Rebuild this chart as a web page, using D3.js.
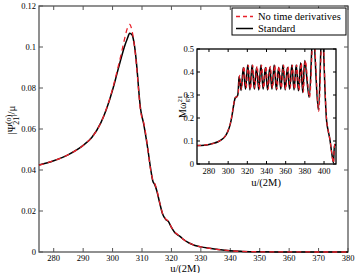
<!DOCTYPE html>
<html>
<head>
<meta charset="utf-8">
<script src="https://cdn.jsdelivr.net/npm/d3@7"></script>
<style>
  body { margin: 0; background: #fff; }
  svg { display: block; font-family: "Liberation Serif", "DejaVu Serif", serif; }
</style>
</head>
<body>
<svg id="chart" width="358" height="273"></svg>
<script>
// main panel: |Psi_21| vs u/(2M)
const uMain = [275, 280, 285, 290, 293, 296, 298, 300, 301.5, 303, 304, 305, 305.8, 306.6, 307.3, 308, 308.5, 309, 309.5, 310, 310.5, 311, 312, 313, 313.7, 314.3, 315, 316, 317, 318, 319, 320, 321, 322, 323, 324, 326, 328, 330, 333, 336, 340, 344, 350, 360, 380];
const psiStd = [0.0424, 0.0445, 0.0475, 0.052, 0.056, 0.063, 0.07, 0.079, 0.087, 0.095, 0.1, 0.104, 0.1067, 0.106, 0.102, 0.094, 0.086, 0.077, 0.07, 0.066, 0.063, 0.059, 0.05, 0.04, 0.0345, 0.033, 0.03, 0.024, 0.0185, 0.016, 0.0148, 0.012, 0.0098, 0.0085, 0.0075, 0.0062, 0.0044, 0.0032, 0.0025, 0.0018, 0.0012, 0.0006, 0.0003, 0.0001, 0.00003, 0];
const psiNoT = [0.0424, 0.0445, 0.0475, 0.052, 0.056, 0.063, 0.0702, 0.0795, 0.088, 0.097, 0.1035, 0.109, 0.111, 0.108, 0.102, 0.093, 0.085, 0.076, 0.069, 0.0655, 0.0635, 0.06, 0.05, 0.0395, 0.035, 0.0335, 0.0305, 0.0242, 0.0187, 0.0162, 0.0149, 0.0121, 0.0099, 0.0086, 0.0075, 0.0062, 0.0044, 0.0032, 0.0025, 0.0018, 0.0012, 0.0006, 0.0003, 0.0001, 0.00003, 0];

// inset: M omega_gw vs u/(2M)
const uInset = [267.5, 275, 280, 285, 290, 295, 298, 300, 302, 304, 306, 307.5, 309, 310, 311.5, 313.5, 315.8, 318.1, 320.4, 322.7, 325, 327.3, 329.6, 331.9, 334.2, 336.5, 338.8, 341.1, 343.4, 345.7, 348, 350.3, 352.6, 354.9, 357.2, 359.5, 361.8, 364.1, 366.4, 368.7, 371, 373.3, 375.6, 377.8, 380, 384.4, 388.6, 394, 398, 402.9, 406, 408, 409.8, 411.3, 412.5];
const omStd = [0.08, 0.082, 0.085, 0.09, 0.098, 0.112, 0.128, 0.145, 0.17, 0.21, 0.262, 0.288, 0.292, 0.3, 0.38, 0.32, 0.42, 0.325, 0.43, 0.322, 0.43, 0.325, 0.42, 0.322, 0.43, 0.325, 0.42, 0.322, 0.42, 0.325, 0.43, 0.322, 0.42, 0.325, 0.43, 0.322, 0.42, 0.325, 0.43, 0.322, 0.43, 0.318, 0.44, 0.31, 0.45, 0.29, 0.58, 0.235, 0.6, 0.18, 0.11, 0.05, 0.005, 0.085, 0.08];
const uInsetN = [267.5, 275, 280, 285, 290, 295, 298, 300, 302, 304, 306, 307.5, 309, 310.3, 312, 314, 316.4, 318.7, 321, 323.3, 325.6, 327.9, 330.2, 332.5, 334.8, 337.1, 339.4, 341.7, 344, 346.3, 348.6, 350.9, 353.2, 355.5, 357.8, 360.1, 362.4, 364.7, 367, 369.3, 371.6, 373.9, 376.2, 378.4, 380.6, 384.9, 389, 394.4, 398.3, 403, 406, 408, 409.8, 411.3, 412.5];
const omNoT = [0.08, 0.082, 0.085, 0.09, 0.098, 0.112, 0.128, 0.146, 0.172, 0.213, 0.265, 0.29, 0.292, 0.302, 0.385, 0.325, 0.425, 0.33, 0.43, 0.325, 0.43, 0.33, 0.425, 0.325, 0.43, 0.33, 0.425, 0.325, 0.425, 0.33, 0.43, 0.325, 0.425, 0.33, 0.43, 0.325, 0.425, 0.33, 0.43, 0.325, 0.43, 0.32, 0.44, 0.312, 0.45, 0.29, 0.58, 0.23, 0.6, 0.18, 0.11, 0.05, 0.005, 0.085, 0.08];

const xTicksMain = [280, 290, 300, 310, 320, 330, 340, 350, 360, 370, 380];
const yTicksMain = [0, 0.02, 0.04, 0.06, 0.08, 0.1, 0.12];
const xTicksInset = [280, 300, 320, 340, 360, 380, 400];
const yTicksInset = [0, 0.1, 0.2, 0.3, 0.4, 0.5];

const svg = d3.select('#chart');
const red = '#e8202a';

const x = d3.scaleLinear().domain([275, 380]).range([39, 348]);
const y = d3.scaleLinear().domain([0, 0.12]).range([252, 6]);

const xi = d3.scaleLinear().domain([267.5, 412.5]).range([197, 336]);
const yi = d3.scaleLinear().domain([0, 0.5]).range([164, 49]);

const fmt = d => d === 0 ? '0' : String(+d.toFixed(2));

// frame + ticks for a panel
function frame(g, sx, sy, xt, yt, col, fs, tl, xoff) {
  const [x0, x1] = sx.range();
  const [y0, y1] = sy.range();
  g.append('rect')
    .attr('x', x0).attr('y', y1)
    .attr('width', x1 - x0).attr('height', y0 - y1)
    .attr('fill', 'none').attr('stroke', col).attr('stroke-width', 1.3);

  xt.forEach(t => {
    g.append('line').attr('x1', sx(t)).attr('x2', sx(t)).attr('y1', y0).attr('y2', y0 - tl)
      .attr('stroke', col);
    g.append('line').attr('x1', sx(t)).attr('x2', sx(t)).attr('y1', y1).attr('y2', y1 + tl)
      .attr('stroke', col);
    g.append('text').attr('x', sx(t)).attr('y', y0 + xoff)
      .attr('text-anchor', 'middle').attr('font-size', fs).text(t);
  });
  yt.forEach(t => {
    g.append('line').attr('x1', x0).attr('x2', x0 + tl).attr('y1', sy(t)).attr('y2', sy(t))
      .attr('stroke', col);
    g.append('line').attr('x1', x1).attr('x2', x1 - tl).attr('y1', sy(t)).attr('y2', sy(t))
      .attr('stroke', col);
    g.append('text').attr('x', x0 - 3).attr('y', sy(t) + fs * 0.33)
      .attr('text-anchor', 'end').attr('font-size', fs).text(fmt(t));
  });
}

const main = svg.append('g');
frame(main, x, y, xTicksMain, yTicksMain, '#555', 8.5, 4, 8.5);

const lineMain = (ys) => d3.line()
  .x((d, i) => x(uMain[i]))
  .y(d => y(d))
  .curve(d3.curveMonotoneX)(ys);

main.append('path').attr('d', lineMain(psiStd))
  .attr('fill', 'none').attr('stroke', '#000').attr('stroke-width', 1.5);
main.append('path').attr('d', lineMain(psiNoT))
  .attr('fill', 'none').attr('stroke', red).attr('stroke-width', 1.3)
  .attr('stroke-dasharray', '5,4');

main.append('text').attr('x', 185).attr('y', 271.5).attr('text-anchor', 'middle')
  .attr('font-size', 10.5).text('u/(2M)');

const yl = main.append('text').attr('transform', 'translate(15,120) rotate(-90)')
  .attr('text-anchor', 'middle').attr('font-size', 11);
yl.append('tspan').text('|\u03A8');
yl.append('tspan').attr('font-size', 8).attr('dy', -4).text('(o)');
yl.append('tspan').attr('font-size', 8).attr('dx', -10).attr('dy', 8).text('21');
yl.append('tspan').attr('dy', -4).text('|/\u03BC');

// inset
const ins = svg.append('g');
ins.append('rect').attr('x', 197).attr('y', 49).attr('width', 139).attr('height', 115).attr('fill', '#fff');
svg.append('clipPath').attr('id', 'ic').append('rect')
  .attr('x', 197).attr('y', 49).attr('width', 139).attr('height', 115);

const lineIns = (us, ys) => d3.line()
  .x((d, i) => xi(us[i]))
  .y(d => yi(d))
  .curve(d3.curveCatmullRom.alpha(0.5))(ys);

const ic = ins.append('g').attr('clip-path', 'url(#ic)');
ic.append('path').attr('d', lineIns(uInset, omStd))
  .attr('fill', 'none').attr('stroke', '#000').attr('stroke-width', 1.5);
ic.append('path').attr('d', lineIns(uInsetN, omNoT))
  .attr('fill', 'none').attr('stroke', red).attr('stroke-width', 1.2)
  .attr('stroke-dasharray', '4,3');

frame(ins, xi, yi, xTicksInset, yTicksInset, '#000', 8.5, 3, 10);

ins.append('text').attr('x', 266).attr('y', 186).attr('text-anchor', 'middle')
  .attr('font-size', 10.5).text('u/(2M)');
const il = ins.append('text').attr('transform', 'translate(186,106) rotate(-90)')
  .attr('text-anchor', 'middle').attr('font-size', 10);
il.append('tspan').text('M\u03C9');
il.append('tspan').attr('font-size', 7).attr('dy', -4).text('21');
il.append('tspan').attr('font-size', 7).attr('dx', -7).attr('dy', 7).text('gw');

// legend
const lg = svg.append('g');
lg.append('rect').attr('x', 232).attr('y', 8).attr('width', 114).attr('height', 27)
  .attr('fill', '#fff').attr('stroke', '#000').attr('stroke-width', 1);
lg.append('line').attr('x1', 236).attr('x2', 253).attr('y1', 16.5).attr('y2', 16.5)
  .attr('stroke', red).attr('stroke-width', 1.3).attr('stroke-dasharray', '4,3');
lg.append('line').attr('x1', 236).attr('x2', 253).attr('y1', 28.5).attr('y2', 28.5)
  .attr('stroke', '#000').attr('stroke-width', 1.5);
lg.append('text').attr('x', 258).attr('y', 20).attr('font-size', 10.5).text('No time derivatives');
lg.append('text').attr('x', 258).attr('y', 32).attr('font-size', 10.5).text('Standard');
</script>
</body>
</html>
